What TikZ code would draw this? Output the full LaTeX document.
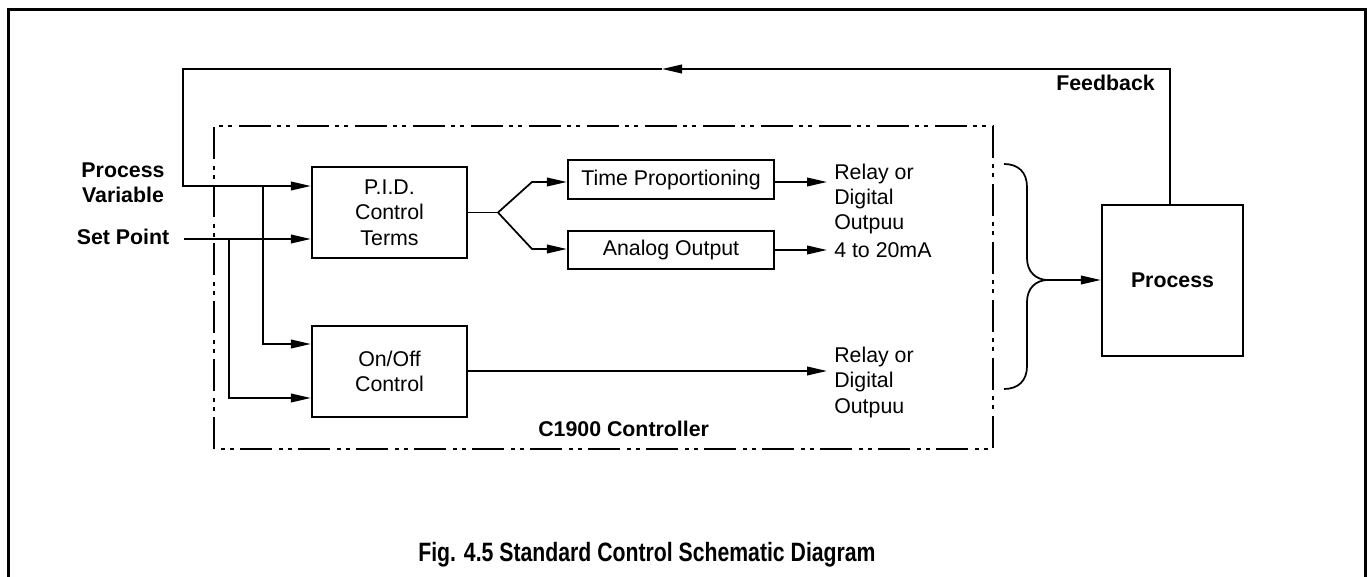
\documentclass[tikz,border=0pt]{standalone}
\usepackage{fontspec}
\setmainfont{Liberation Sans}
\newfontfamily\captfont[FakeStretch=0.8]{Liberation Sans}
\usetikzlibrary{arrows.meta,calc}
\begin{document}
\begin{tikzpicture}[x=0.75pt,y=-0.75pt,
  every node/.style={font=\fontsize{16}{19}\selectfont},
  box/.style={draw,line width=1.8pt,align=center,inner sep=0pt},
  conn/.style={line width=1.3pt},
  arr/.style={conn,-{Triangle[length=15pt,width=6.5pt]}},
  lbl/.style={align=left,inner sep=0pt},
  blbl/.style={inner sep=0pt,font=\fontsize{16}{19}\selectfont\bfseries}]
\useasboundingbox (0,0) rectangle (1367,577);
% outer frame
\draw[line width=2.25pt] (8,580) -- (8,10) -- (1365.5,10) -- (1365.5,580);
% controller boundary
\draw[line width=2pt,dash pattern=on 24pt off 4.5pt on 3pt off 4pt on 3pt off 5pt]
  (214,449) -- (214,126) -- (993,126) -- (993,449) -- cycle;
% blocks
\node[box,minimum width=116.25pt,minimum height=68.25pt] (pid) at (389.5,212.5) {P.I.D.\\Control\\Terms};
\node[box,minimum width=116.25pt,minimum height=68.25pt] (onoff) at (389.5,371.5) {On/Off\\Control};
\node[box,minimum width=154.5pt,minimum height=29.25pt] (time) at (671,179.5) {Time Proportioning};
\node[box,minimum width=154.5pt,minimum height=28.5pt] (analog) at (671,250) {Analog Output};
\node[box,minimum width=105.75pt,minimum height=113.25pt,font=\fontsize{16}{19}\selectfont\bfseries] (proc) at (1172.5,280.5) {Process};
% labels (base anchor = last line)
\node[blbl,align=center,anchor=base] (pv) at (123,203) {Process\\Variable};
\node[blbl,anchor=base] (sp) at (123,245) {Set Point};
\node[blbl,anchor=base east] (fbl) at (1155,91) {Feedback};
\node[blbl,anchor=base west] (ctl) at (538,436) {C1900 Controller};
\node[lbl,anchor=base west] (out1) at (834,230) {Relay or\\Digital\\Outpuu};
\node[lbl,anchor=base west] (out2) at (834,258) {4 to 20mA};
\node[lbl,anchor=base west] (out3) at (834,413) {Relay or\\Digital\\Outpuu};
\node[inner sep=0pt,anchor=base,font=\fontsize{19.9}{24}\captfont\bfseries] (cap) at (647,561) {Fig. 4.5 Standard Control Schematic Diagram};
% coordinates
\coordinate (fbR) at (1170,69);
\coordinate (fbM) at (662,69);
\coordinate (fbL) at (183,69);
\coordinate (pvy) at (183,186);
\coordinate (spS) at (184,239);
\coordinate (pvB) at (263,186);
\coordinate (spB) at (229,239);
\coordinate (onA) at (263,344);
\coordinate (onB) at (229,398);
\coordinate (fork) at (498,212.5);
\coordinate (fT) at (532,182);
\coordinate (fB) at (532,249);
\coordinate (o1) at (827,182);
\coordinate (o2) at (827,250);
\coordinate (o3) at (827,371);
\coordinate (btip) at (1048,280);
% feedback loop
\draw[arr] (proc.north -| fbR) -- (fbR) -- (fbM);
\draw[arr] (fbM) -- (fbL) -- (pvy) -- (pid.west |- pvy);
\draw[arr] (spS) -- (pid.west |- spS);
\draw[arr] (pvB) -- (onA) -- (onoff.west |- onA);
\draw[arr] (spB) -- (onB) -- (onoff.west |- onB);
% PID outputs
\draw[conn] (pid.east) -- (fork);
\draw[arr] (fork) -- (fT) -- (time.west |- fT);
\draw[arr] (fork) -- (fB) -- (analog.west |- fB);
\draw[arr] (time.east |- o1) -- (o1);
\draw[arr] (analog.east |- o2) -- (o2);
\draw[arr] (onoff.east |- o3) -- (o3);
% brace
\draw[conn] (1004,164) .. controls (1018,164) and (1027,172) .. (1027,187) -- (1027,258)
  .. controls (1027,272) and (1036,280) .. (btip)
  .. controls (1036,280) and (1027,288) .. (1027,302) -- (1027,366)
  .. controls (1027,381) and (1018,389) .. (1004,389);
\draw[arr] (btip) -- (proc.west |- btip);
\end{tikzpicture}
\end{document}
